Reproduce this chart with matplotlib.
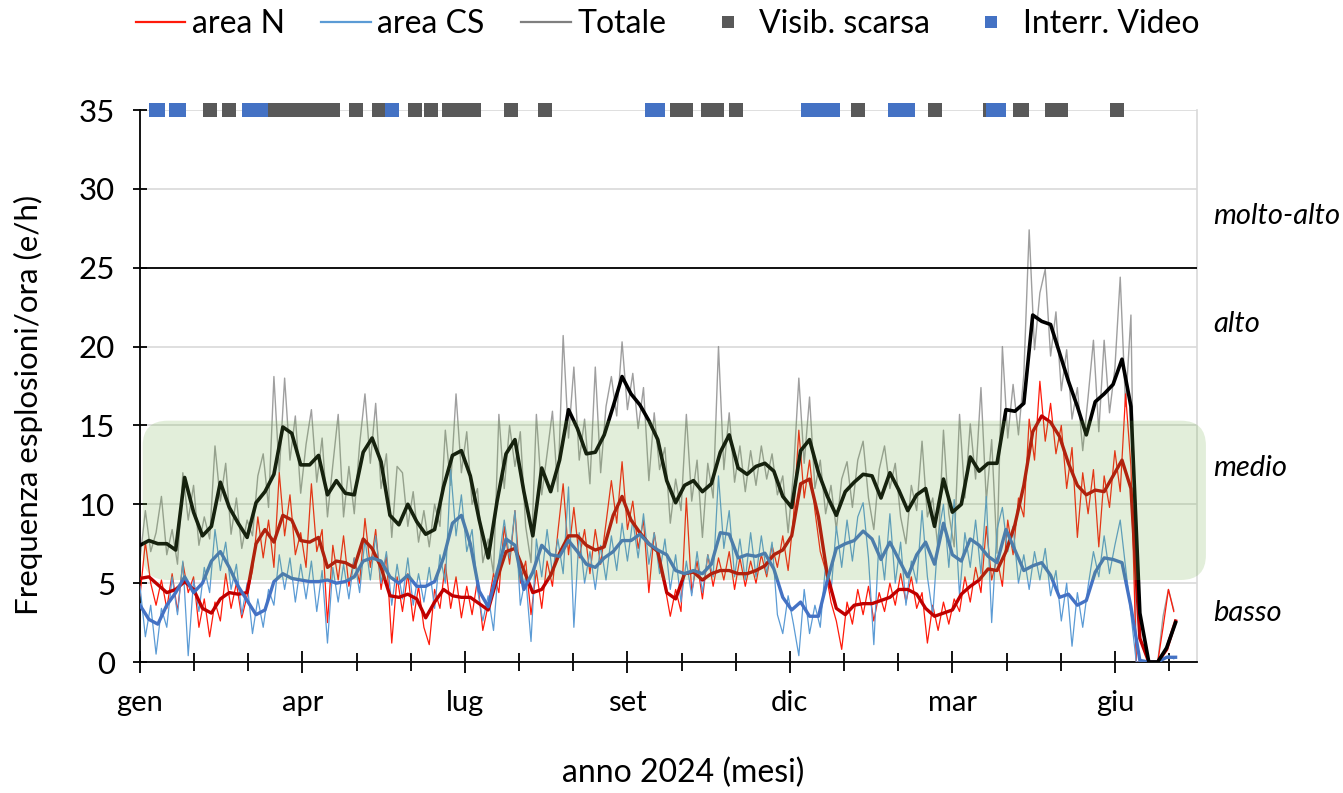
import numpy as np
import matplotlib.pyplot as plt
import matplotlib.transforms as mtransforms
from matplotlib.patches import FancyBboxPatch
from matplotlib.lines import Line2D

plt.rcParams['font.family'] = ['Lato', 'DejaVu Sans']

# daily values sampled every 3 days (day 0 = 1 gen 2024)
tot_raw = [
    6.5, 9.6, 7.0, 8.2, 10.5, 6.8, 8.4, 6.2, 12.0, 9.0,
    11.2, 7.4, 9.2, 7.8, 13.7, 10.2, 12.6, 8.1, 10.4, 7.2,
    9.0, 8.0, 11.8, 13.2, 9.8, 18.1, 12.0, 18.0, 12.8, 15.6,
    10.7, 13.8, 16.0, 11.4, 14.2, 9.2, 12.5, 15.7, 9.2, 12.4,
    9.4, 13.8, 17.0, 12.6, 16.4, 11.0, 13.2, 7.9, 12.4, 12.0,
    8.6, 10.8, 7.6, 9.6, 7.3, 10.0, 8.6, 14.7, 11.2, 17.0,
    12.0, 14.6, 10.0, 11.0, 6.3, 7.8, 5.6, 15.7, 11.0, 15.0,
    12.4, 14.6, 8.6, 6.3, 15.7, 10.6, 13.2, 15.9, 10.8, 20.7,
    14.2, 18.7, 12.8, 15.4, 11.3, 18.7, 12.0, 16.2, 18.1, 15.6,
    20.3, 16.0, 18.3, 14.8, 17.4, 11.5, 15.8, 12.2, 13.6, 8.8,
    11.6, 9.6, 15.7, 10.2, 12.8, 7.9, 12.6, 10.4, 20.0, 12.2,
    15.8, 11.4, 13.7, 10.8, 13.4, 11.2, 13.7, 11.6, 13.2, 10.6,
    11.8, 8.2, 12.0, 18.0, 12.6, 16.8, 11.0, 12.8, 9.4, 11.2,
    8.4, 11.6, 12.7, 9.8, 12.8, 14.0, 10.4, 8.4, 12.2, 13.7,
    11.0, 12.6, 9.2, 7.5, 11.2, 9.6, 14.0, 9.2, 10.4, 7.1,
    14.7, 9.4, 7.3, 15.7, 10.4, 15.1, 11.6, 17.4, 10.2, 14.1,
    6.9, 20.0, 14.2, 17.6, 14.4, 18.2, 27.4, 19.8, 23.4, 24.9,
    19.4, 22.2, 17.2, 19.8, 15.4, 17.4, 13.4, 16.8, 20.4, 14.6,
    20.4, 15.8, 18.6, 24.4, 16.2, 22.0, 0.0, 0.0, 0.0, 0.0,
    0.0, 2.9, 4.6, 3.3,
]
n_raw = [
    4.2, 7.6, 5.0, 3.6, 5.2, 3.4, 5.6, 3.2, 6.3, 4.4,
    5.4, 2.2, 4.0, 1.6, 3.8, 2.6, 5.6, 3.4, 5.0, 2.8,
    4.2, 5.8, 9.2, 6.6, 9.0, 6.0, 12.0, 8.0, 10.6, 6.8,
    8.2, 6.0, 11.3, 7.0, 8.4, 2.5, 7.4, 5.2, 8.0, 4.8,
    6.6, 5.0, 9.1, 6.0, 8.4, 4.6, 6.8, 1.2, 5.4, 3.2,
    5.6, 2.6, 4.8, 2.2, 1.1, 4.6, 3.4, 6.2, 3.4, 5.4,
    2.8, 4.8, 3.0, 5.2, 2.0, 3.6, 5.6, 4.4, 8.6, 6.2,
    9.6, 5.0, 6.4, 3.0, 5.8, 3.4, 6.4, 4.8, 8.2, 11.3,
    6.8, 9.8, 6.6, 8.4, 5.6, 8.4, 6.2, 8.8, 11.5, 8.8,
    12.7, 8.4, 10.2, 7.2, 9.0, 4.4, 8.2, 6.0, 4.8, 2.9,
    4.6, 3.2, 10.4, 4.4, 6.4, 4.0, 6.8, 4.8, 6.6, 5.2,
    7.0, 4.6, 6.6, 4.8, 6.4, 5.0, 6.8, 5.4, 7.4, 6.0,
    8.0, 5.8, 9.2, 14.7, 10.4, 12.8, 9.6, 7.0, 5.8, 3.8,
    2.6, 0.8, 3.8, 2.4, 4.6, 3.0, 4.8, 2.6, 4.4, 3.2,
    5.0, 3.6, 5.6, 3.8, 5.4, 3.4, 4.4, 1.2, 3.6, 2.0,
    3.8, 2.4, 4.0, 3.2, 5.4, 3.8, 6.0, 4.4, 8.6, 5.2,
    6.6, 4.8, 9.0, 6.8, 10.4, 9.2, 15.4, 12.8, 17.8, 14.0,
    16.4, 13.2, 15.0, 11.0, 13.6, 7.9, 12.0, 9.4, 12.2, 7.3,
    11.8, 9.8, 13.4, 10.8, 17.0, 12.4, 0.0, 0.0, 0.0, 0.0,
    0.0, 2.2, 4.6, 3.2,
]
cs_raw = [
    4.8, 1.6, 3.6, 0.5, 3.4, 2.2, 5.4, 3.0, 6.4, 0.4,
    5.2, 3.2, 6.0, 4.4, 8.4, 5.8, 7.6, 4.6, 6.2, 3.0,
    5.0, 1.8, 4.0, 2.2, 4.6, 3.6, 6.8, 4.6, 6.6, 3.8,
    6.2, 4.0, 6.4, 3.2, 5.8, 1.2, 6.0, 3.8, 6.2, 4.0,
    6.6, 4.4, 7.8, 5.2, 8.0, 5.0, 7.0, 3.6, 6.2, 4.0,
    6.6, 3.6, 5.6, 3.8, 6.0, 3.4, 6.8, 5.0, 12.2, 8.0,
    10.6, 7.0, 8.4, 4.6, 2.6, 4.2, 2.0, 6.4, 9.0, 6.6,
    9.6, 3.6, 5.4, 1.3, 7.8, 5.4, 8.4, 5.6, 7.8, 5.6,
    11.1, 2.2, 8.2, 5.0, 7.0, 4.6, 7.4, 5.2, 8.0, 5.8,
    8.8, 6.4, 9.0, 6.6, 9.4, 6.2, 8.2, 5.6, 7.8, 4.6,
    6.8, 3.8, 6.4, 4.2, 7.0, 4.4, 6.8, 5.4, 11.8, 7.2,
    9.6, 5.4, 7.8, 5.2, 8.2, 5.4, 8.0, 5.6, 7.6, 3.0,
    1.8, 4.2, 2.4, 0.4, 4.6, 1.8, 3.6, 2.2, 6.2, 4.4,
    8.6, 6.0, 9.0, 6.4, 9.2, 10.1, 6.6, 1.1, 8.0, 5.2,
    9.4, 5.0, 7.6, 3.6, 6.4, 5.0, 9.6, 5.4, 3.0, 8.0,
    10.0, 6.0, 10.3, 4.2, 8.2, 6.0, 9.0, 5.6, 10.5, 2.5,
    8.4, 9.8, 7.0, 8.6, 5.0, 6.8, 4.6, 7.0, 5.2, 7.2,
    4.2, 5.8, 2.6, 5.0, 1.0, 4.4, 2.2, 4.8, 7.0, 5.4,
    8.0, 5.6, 7.4, 9.0, 6.0, 3.0, 0.0, 0.0, 0.0, 0.0,
    0.0, 0.2, 0.4, 0.2,
]

# moving averages, one value every 5 days
tot_avg = [
    7.4, 7.7, 7.5, 7.5, 7.1, 11.7, 9.5, 8.0, 8.6, 11.4,
    9.8, 8.8, 7.9, 10.1, 10.8, 11.9, 14.9, 14.5, 12.5, 12.5,
    13.1, 10.6, 11.5, 10.7, 10.6, 13.3, 14.2, 12.7, 9.3, 8.7,
    10.0, 8.9, 8.1, 8.4, 11.1, 13.1, 13.4, 11.8, 9.0, 6.6,
    10.2, 13.2, 14.1, 10.8, 8.0, 12.3, 10.8, 12.8, 16.0, 14.8,
    13.2, 13.3, 14.4, 16.2, 18.1, 17.0, 16.3, 15.3, 14.1, 11.5,
    10.1, 11.2, 11.5, 10.8, 11.3, 13.3, 14.4, 12.3, 11.9, 12.4,
    12.6, 12.1, 10.5, 9.8, 13.4, 14.1, 12.0, 10.5, 9.3, 10.8,
    11.4, 11.9, 11.8, 10.4, 12.0, 10.9, 9.6, 10.6, 11.0, 8.6,
    11.6, 9.5, 10.0, 13.0, 12.1, 12.6, 12.6, 16.0, 15.9, 16.4,
    22.0, 21.6, 21.4, 19.6, 17.8, 16.2, 14.4, 16.5, 17.0, 17.6,
    19.2, 16.2, 3.1, 0.0, 0.0, 0.9, 2.5,
]
n_avg = [
    5.3, 5.4, 4.9, 4.4, 4.6, 5.1, 4.6, 3.4, 3.1, 4.0,
    4.4, 4.3, 4.4, 7.5, 8.4, 7.6, 9.3, 9.0, 7.7, 7.6,
    7.9, 6.0, 6.4, 6.3, 6.0, 7.8, 7.2, 6.0, 4.2, 4.1,
    4.3, 4.0, 2.8, 3.8, 4.6, 4.2, 4.1, 4.1, 3.7, 3.3,
    5.3, 7.0, 7.2, 5.8, 4.4, 4.6, 5.5, 6.9, 8.0, 8.0,
    7.4, 7.1, 7.3, 9.3, 10.5, 9.0, 8.2, 7.5, 7.0, 4.4,
    4.0, 5.6, 5.7, 5.2, 5.6, 5.8, 5.8, 5.6, 5.6, 5.8,
    6.1, 6.8, 7.1, 8.0, 11.3, 11.6, 9.2, 5.5, 3.4, 3.0,
    3.6, 3.7, 3.7, 3.9, 4.1, 4.6, 4.6, 4.3, 3.4, 2.9,
    3.1, 3.3, 4.3, 4.8, 5.2, 5.9, 5.8, 7.0, 8.7, 11.2,
    14.6, 15.6, 15.2, 14.3, 12.6, 11.2, 10.6, 10.9, 10.8, 11.8,
    12.8, 11.0, 1.5, 0.0, 0.0, 0.8, 2.6,
]
cs_avg = [
    3.6, 2.7, 2.4, 3.6, 4.4, 5.4, 4.4, 5.0, 6.4, 7.0,
    6.0, 4.8, 3.9, 3.0, 3.3, 5.1, 5.6, 5.3, 5.2, 5.1,
    5.1, 5.2, 5.0, 5.1, 5.4, 6.4, 6.6, 6.4, 5.4, 5.0,
    5.5, 4.8, 4.8, 5.1, 6.6, 8.8, 9.3, 7.5, 4.5, 3.5,
    5.7, 7.8, 7.4, 4.6, 5.7, 7.4, 6.8, 6.7, 7.7, 7.0,
    6.2, 6.0, 6.6, 7.0, 7.7, 7.7, 8.1, 7.5, 7.1, 6.8,
    5.8, 5.6, 5.8, 5.6, 6.2, 8.2, 8.1, 6.6, 6.8, 6.7,
    6.9, 5.9, 4.1, 3.3, 3.8, 2.9, 2.9, 5.2, 7.2, 7.5,
    7.7, 8.3, 7.8, 6.5, 7.6, 6.5, 5.4, 6.8, 7.6, 6.2,
    8.8, 6.8, 6.4, 7.8, 7.4, 6.7, 6.3, 8.4, 7.1, 5.8,
    6.1, 6.3, 5.5, 4.1, 4.3, 3.6, 3.9, 5.7, 6.6, 6.5,
    6.3, 3.5, 0.1, 0.0, 0.0, 0.3, 0.3,
]

# days with poor visibility / video interruption
visib_days = ([39, 50] + list(range(75, 109)) + [121, 134, 154, 163, 173]
              + list(range(181, 188)) + [208, 227] + list(range(301, 307))
              + list(range(318, 324)) + [334, 402, 445, 476, 493, 494]
              + list(range(511, 517)) + [547])
video_days = ([9, 10, 20, 21, 22] + list(range(61, 69)) + [141]
              + list(range(287, 291)) + list(range(374, 389)) + [423, 429, 430]
              + list(range(478, 482)))

month_ticks = [0, 91, 182, 273, 364, 455, 546]
month_labels = ['gen', 'apr', 'lug', 'set', 'dic', 'mar', 'giu']
levels = ['molto-alto', 'alto', 'medio', 'basso']
levels_y = [28.3, 21.4, 12.3, 3.1]
medio_band = (5.2, 15.3)
threshold = 25

fig = plt.figure(figsize=(13.43, 7.93), dpi=100)
ax = fig.add_axes([140 / 1343, 1 - 662 / 793, 1057 / 1343, 552 / 793])

d_raw = np.arange(len(tot_raw)) * 3
d_avg = np.arange(len(tot_avg)) * 5

ax.plot(d_raw, tot_raw, color='#7f7f7f', lw=1.0, alpha=0.75, zorder=2)
ax.plot(d_raw, n_raw, color='#ff1a0a', lw=0.9, zorder=3)
ax.plot(d_raw, cs_raw, color='#5b9bd5', lw=0.9, zorder=3)
ax.plot(d_avg, n_avg, color='#c00000', lw=2.4, zorder=4)
ax.plot(d_avg, cs_avg, color='#4472c4', lw=2.4, zorder=4)
ax.plot(d_avg, tot_avg, color='black', lw=2.6, zorder=5)

ax.plot(visib_days, [35] * len(visib_days), ls='none', marker='s', ms=10, mew=0,
        color='#595959', clip_on=False, zorder=6)
ax.plot(video_days, [35] * len(video_days), ls='none', marker='s', ms=10, mew=0,
        color='#4472c4', clip_on=False, zorder=6)

ax.axhline(threshold, color='black', lw=1.3, zorder=5)

ax.set_xlim(0, 592)
ax.set_ylim(0, 35)
ax.set_yticks(range(0, 36, 5))
ax.yaxis.grid(True, color='#d9d9d9', lw=1.2)
ax.set_axisbelow(True)

ax.set_xticks(month_ticks)
ax.set_xticklabels(month_labels)
ax.set_xticks([k * 91 / 3 for k in range(20) if k % 3], minor=True)
ax.tick_params(axis='x', which='major', direction='inout', length=16, width=1.3,
               pad=12, labelsize=21)
ax.tick_params(axis='x', which='minor', direction='inout', length=13, width=1.3)
ax.tick_params(axis='y', direction='inout', length=10, width=1.3, pad=13,
               labelsize=22.5)

for s in ['left', 'bottom']:
    ax.spines[s].set_linewidth(1.3)
ax.spines['top'].set_visible(False)
ax.spines['right'].set_color('#d9d9d9')
ax.spines['right'].set_linewidth(1.2)

for lab, y in zip(levels, levels_y):
    ax.text(601, y, lab, style='italic', fontsize=21, ha='left', va='center',
            clip_on=False)

# green "medio" band, drawn on top with transparency
x0, y0 = ax.transData.transform((1.5, medio_band[0]))
x1, y1 = ax.transData.transform((597, medio_band[1]))
band = FancyBboxPatch((x0, y0), x1 - x0, y1 - y0,
                      boxstyle='round,pad=0,rounding_size=25',
                      transform=mtransforms.IdentityTransform(),
                      facecolor='#70ad47', alpha=0.2, edgecolor='none', zorder=8)
fig.add_artist(band)

fig.text(28 / 1343, 1 - 405 / 793, 'Frequenza esplosioni/ora (e/h)', rotation=90,
         ha='center', va='center', fontsize=22.5)
fig.text(683 / 1343, 1 - 773 / 793, 'anno 2024 (mesi)', ha='center', va='center',
         fontsize=23)

handles = [
    Line2D([], [], color='#ff1a0a', lw=1.6),
    Line2D([], [], color='#5b9bd5', lw=1.6),
    Line2D([], [], color='#7f7f7f', lw=1.6),
    Line2D([], [], ls='none', marker='s', ms=9, mew=0, color='#595959'),
    Line2D([], [], ls='none', marker='s', ms=9, mew=0, color='#4472c4'),
]
labels = ['area N', 'area CS', 'Totale', 'Visib. scarsa', 'Interr. Video']
fig.legend(handles, labels, loc='center', bbox_to_anchor=(0.497, 1 - 24 / 793),
           ncol=5, frameon=False, fontsize=23, handlelength=1.55,
           handletextpad=0.2, columnspacing=1.15)

fig.savefig('out.png', dpi=100)
